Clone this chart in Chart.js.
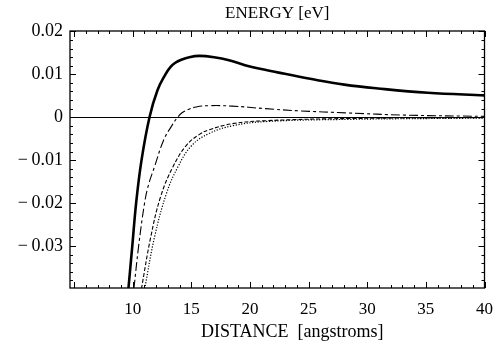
<!DOCTYPE html>
<html>
<head>
<meta charset="utf-8">
<script src="https://cdn.jsdelivr.net/npm/chart.js@4/dist/chart.umd.min.js"></script>
<style>
  html, body { margin: 0; padding: 0; background: #fff; }
  #wrap { width: 504px; height: 349px; }
</style>
</head>
<body>
<div id="wrap"><canvas id="chart" width="504" height="349"></canvas></div>
<script>
// Interaction energy vs. separation, four model curves.

const FONT = '"Liberation Serif", "Times New Roman", serif';

const xTicks = [10, 15, 20, 25, 30, 35, 40];
const yTicks = [-0.03, -0.02, -0.01, 0, 0.01, 0.02];

// total energy (heavy solid)
const solidX = [9.63, 9.96, 10.29, 10.75, 11.43, 12.11, 12.79, 13.21, 13.63, 14.14, 14.82, 15.67, 16.94, 18.21, 19.99, 22.45, 25.25, 28.04, 30.92, 35.16, 40];
const solidY = [-0.0400, -0.0301, -0.0200, -0.0100, 0, 0.0063, 0.0100, 0.0117, 0.0127, 0.0134, 0.0140, 0.0143, 0.0140, 0.0133, 0.0118, 0.0104, 0.0089, 0.0076, 0.0067, 0.0057, 0.0051];

// dash-dot curve
const dashDotX = [10.10, 10.50, 11.01, 11.34, 11.85, 12.64, 13.35, 13.83, 14.23, 14.73, 15.41, 16.51, 18.46, 21.32, 24.15, 28.38, 33.18, 40];
const dashDotY = [-0.0400, -0.0301, -0.0200, -0.0158, -0.0116, -0.0053, -0.0019, 0, 0.0011, 0.0018, 0.0024, 0.0027, 0.0026, 0.0020, 0.0015, 0.0010, 0.0005, 0.0002];

// short-dash curve
const dashX = [10.74, 11.53, 12.38, 13.42, 14.56, 15.69, 16.54, 18.5, 21.4, 28.4, 40];
const dashY = [-0.0400, -0.0280, -0.0185, -0.0116, -0.0066, -0.0040, -0.0029, -0.0015, -0.0008, -0.0003, -0.0001];

// dotted curve
const dotX = [11.02, 11.87, 12.91, 13.85, 14.99, 16.5, 18.5, 21.4, 28.4, 40];
const dotY = [-0.0400, -0.0278, -0.0175, -0.0116, -0.0067, -0.0038, -0.0020, -0.0010, -0.0005, -0.0002];

const pts = (xs, ys) => xs.map((x, i) => ({ x, y: ys[i] }));

function curve(xs, ys, width, dash) {
  return {
    data: pts(xs, ys),
    borderColor: '#000',
    borderWidth: width,
    borderDash: dash,
    pointRadius: 0,
    fill: false,
    tension: 0.4,
  };
}

// Frame with inward-pointing major/minor ticks on all four sides, plus captions.
const frameTicks = {
  id: 'frameTicks',
  afterDatasetsDraw(chart) {
    const { ctx, chartArea: a, scales: { x, y } } = chart;
    ctx.save();
    ctx.strokeStyle = '#000';
    ctx.lineWidth = 1;
    ctx.beginPath();
    for (let v = 5; v <= 40; v++) {
      const len = v % 5 === 0 ? 6 : 3;
      const px = Math.round(x.getPixelForValue(v)) + 0.5;
      ctx.moveTo(px, a.bottom); ctx.lineTo(px, a.bottom - len);
      ctx.moveTo(px, a.top); ctx.lineTo(px, a.top + len);
    }
    for (let k = -19; k <= 10; k++) {
      const len = k % 5 === 0 ? 6 : 3;
      const py = Math.round(y.getPixelForValue(k * 0.002)) + 0.5;
      ctx.moveTo(a.left, py); ctx.lineTo(a.left + len, py);
      ctx.moveTo(a.right, py); ctx.lineTo(a.right - len, py);
    }
    ctx.stroke();
    ctx.lineWidth = 1.3;
    ctx.strokeRect(a.left, a.top, a.right - a.left, a.bottom - a.top);
    ctx.restore();
  },
  afterDraw(chart) {
    const { ctx, chartArea: a } = chart;
    const cx = (a.left + a.right) / 2;
    ctx.save();
    ctx.fillStyle = '#000';
    ctx.textAlign = 'center';
    ctx.textBaseline = 'alphabetic';
    ctx.font = '17px ' + FONT;
    ctx.fillText('ENERGY [eV]', cx, 18);
    ctx.font = '18px ' + FONT;
    ctx.fillText('DISTANCE  [angstroms]', cx + 15, 337);
    ctx.restore();
  },
};

new Chart(document.getElementById('chart'), {
  type: 'line',
  data: {
    datasets: [
      curve(solidX, solidY, 2.6, []),
      curve(dashDotX, dashDotY, 1.1, [9, 3, 3, 3]),
      curve(dashX, dashY, 1.1, [4, 2]),
      curve(dotX, dotY, 1.2, [1.2, 1.6]),
    ],
  },
  options: {
    responsive: false,
    animation: false,
    layout: { padding: { top: 31, right: 17, left: 0, bottom: 0 } },
    plugins: { legend: { display: false }, tooltip: { enabled: false } },
    scales: {
      x: {
        type: 'linear',
        min: 4.65,
        max: 40,
        afterBuildTicks: s => { s.ticks = xTicks.map(v => ({ value: v })); },
        afterFit: s => { s.height = 61; },
        grid: { display: false, drawTicks: false },
        border: { display: false },
        ticks: { color: '#000', padding: 11, maxRotation: 0, font: { family: FONT, size: 17 } },
      },
      y: {
        min: -0.0398,
        max: 0.0201,
        afterBuildTicks: s => { s.ticks = yTicks.map(v => ({ value: v })); },
        afterFit: s => { s.width = 70; },
        grid: {
          drawTicks: false,
          color: c => (c.tick && c.tick.value === 0 ? '#000' : 'rgba(0,0,0,0)'),
          lineWidth: 1,
        },
        border: { display: false },
        ticks: {
          color: '#000',
          padding: 7,
          font: { family: FONT, size: 18 },
          callback: v => (v === 0 ? '0' : (v < 0 ? '\u2212\u2009' : '') + Math.abs(v).toFixed(2)),
        },
      },
    },
  },
  plugins: [frameTicks],
});
</script>
</body>
</html>
